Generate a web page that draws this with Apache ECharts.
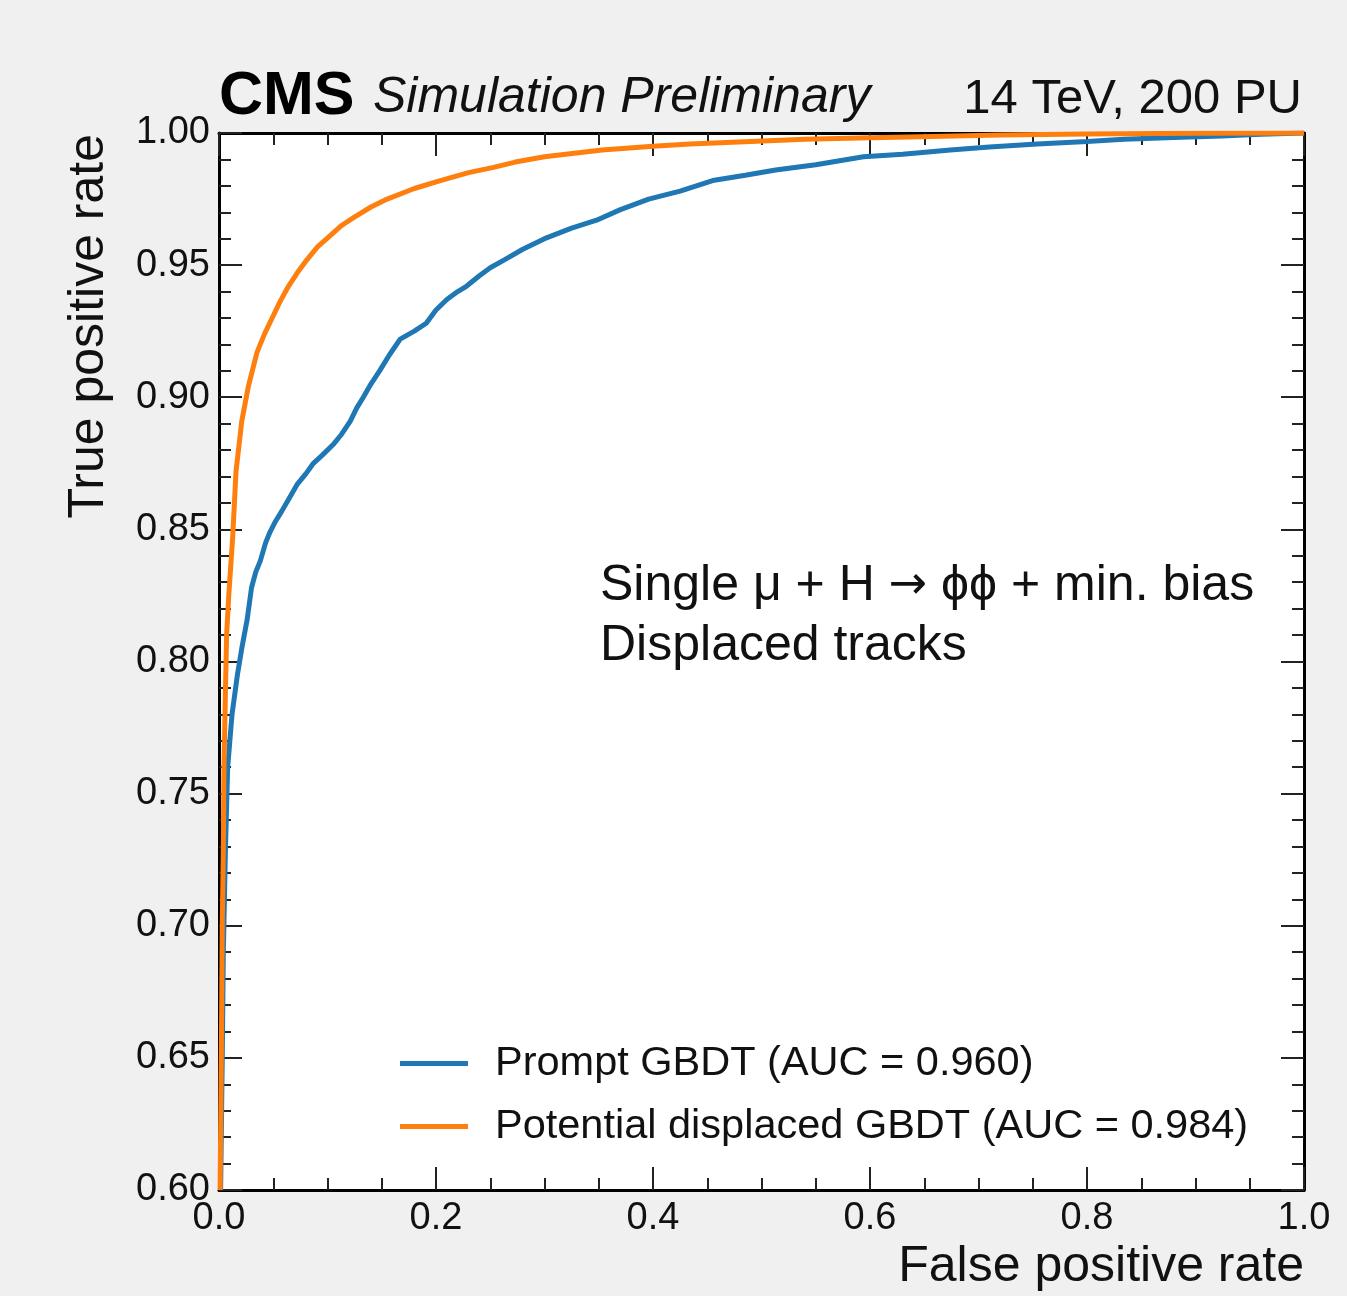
<!DOCTYPE html>
<html>
<head>
<meta charset="utf-8">
<script src="https://cdn.jsdelivr.net/npm/echarts@6/dist/echarts.min.js"></script>
<style>
  html, body { margin: 0; padding: 0; background: #f0f0f0; }
  #chart { width: 1347px; height: 1296px; }
</style>
</head>
<body>
<div id="chart"></div>
<script>
// ROC curves: [false positive rate, true positive rate]
const promptRoc = [
  [0.0015, 0.60], [0.003, 0.65], [0.004, 0.69], [0.006, 0.73], [0.008, 0.76],
  [0.012, 0.78], [0.017, 0.795], [0.021, 0.805], [0.026, 0.816], [0.030, 0.828],
  [0.034, 0.834], [0.038, 0.838], [0.043, 0.845], [0.047, 0.849], [0.052, 0.853],
  [0.058, 0.857], [0.065, 0.862], [0.072, 0.867], [0.080, 0.871], [0.087, 0.875],
  [0.095, 0.878], [0.105, 0.882], [0.113, 0.886], [0.121, 0.891], [0.127, 0.896],
  [0.133, 0.900], [0.140, 0.905], [0.148, 0.910], [0.157, 0.916], [0.167, 0.922],
  [0.180, 0.925], [0.191, 0.928], [0.200, 0.933], [0.210, 0.937], [0.220, 0.940],
  [0.228, 0.942], [0.240, 0.946], [0.250, 0.949], [0.263, 0.952], [0.280, 0.956],
  [0.300, 0.960], [0.325, 0.964], [0.348, 0.967], [0.370, 0.971], [0.396, 0.975],
  [0.425, 0.978], [0.455, 0.982], [0.485, 0.984], [0.513, 0.986], [0.550, 0.988],
  [0.594, 0.991], [0.630, 0.992], [0.674, 0.9936], [0.710, 0.9947], [0.754, 0.9958],
  [0.800, 0.9968], [0.834, 0.9976], [0.880, 0.9983], [0.924, 0.9989], [0.960, 0.9995],
  [1.0, 1.0]
];

const displacedRoc = [
  [0.0010, 0.60], [0.0017, 0.63], [0.0025, 0.67], [0.0030, 0.70], [0.0040, 0.73],
  [0.0046, 0.76], [0.0060, 0.79], [0.0070, 0.810], [0.0090, 0.825], [0.0126, 0.847],
  [0.0157, 0.872], [0.021, 0.891], [0.027, 0.904], [0.035, 0.917], [0.042, 0.924],
  [0.049, 0.930], [0.056, 0.936], [0.064, 0.942], [0.072, 0.947], [0.081, 0.952],
  [0.091, 0.957], [0.102, 0.961], [0.113, 0.965], [0.124, 0.968], [0.140, 0.972],
  [0.155, 0.975], [0.180, 0.979], [0.204, 0.982], [0.230, 0.985], [0.253, 0.987],
  [0.273, 0.989], [0.300, 0.991], [0.353, 0.9936], [0.400, 0.995], [0.434, 0.9958],
  [0.490, 0.9968], [0.540, 0.9976], [0.600, 0.9982], [0.647, 0.9986], [0.720, 0.9992],
  [0.800, 0.9996], [0.900, 0.9999], [1.0, 1.0]
];

const seriesNames = ["Prompt GBDT (AUC = 0.960)", "Potential displaced GBDT (AUC = 0.984)"];
const seriesColors = ["#1f77b4", "#ff7f0e"];

const xTickLabels = ["0.0", "0.2", "0.4", "0.6", "0.8", "1.0"];
const yTickLabels = ["0.60", "0.65", "0.70", "0.75", "0.80", "0.85", "0.90", "0.95", "1.00"];

const FONT = "'Liberation Sans', Arial, Helvetica, sans-serif";

const chart = echarts.init(document.getElementById("chart"));

const frameAxis = {
  axisLine: { show: true, onZero: false, lineStyle: { color: "#000", width: 3 } },
  axisTick: { show: true, inside: true, length: 23, lineStyle: { color: "#222", width: 2 } },
  minorTick: { show: true, length: 12, lineStyle: { color: "#222", width: 2 } },
  splitLine: { show: false },
  minorSplitLine: { show: false },
};

const xBase = { type: "value", min: 0, max: 1, interval: 0.2, ...frameAxis,
  minorTick: { ...frameAxis.minorTick, splitNumber: 4 } };
const yBase = { type: "value", min: 0.6, max: 1.0, interval: 0.05, ...frameAxis,
  minorTick: { ...frameAxis.minorTick, splitNumber: 5 } };

const option = {
  backgroundColor: "#f0f0f0",
  animation: false,
  textStyle: { fontFamily: FONT },
  grid: {
    left: 219, top: 133, width: 1085, height: 1057,
    show: true, backgroundColor: "#fff", borderWidth: 0,
  },
  xAxis: [
    {
      ...xBase, position: "bottom",
      axisLabel: {
        show: true, margin: 10, color: "#111", fontSize: 38, fontFamily: FONT,
        formatter: (v) => xTickLabels[Math.round(v / 0.2)] ?? "",
      },
    },
    { ...xBase, position: "top", axisLabel: { show: false } },
  ],
  yAxis: [
    {
      ...yBase, position: "left",
      axisLabel: {
        show: true, margin: 9, color: "#111", fontSize: 38, fontFamily: FONT,
        formatter: (v) => yTickLabels[Math.round((v - 0.6) / 0.05)] ?? "",
      },
    },
    { ...yBase, position: "right", axisLabel: { show: false } },
  ],
  legend: {
    orient: "vertical",
    left: 395, top: 1037,
    itemWidth: 68, itemHeight: 5, itemGap: 20,
    icon: "rect",
    textStyle: { fontSize: 41.5, color: "#111", fontFamily: FONT, padding: [0, 0, 0, 22], lineHeight: 43 },
    data: seriesNames,
  },
  series: [
    {
      name: seriesNames[0], type: "line", data: promptRoc,
      xAxisIndex: 0, yAxisIndex: 0, showSymbol: false, clip: true,
      lineStyle: { color: seriesColors[0], width: 5 }, itemStyle: { color: seriesColors[0] },
    },
    {
      name: seriesNames[1], type: "line", data: displacedRoc,
      xAxisIndex: 0, yAxisIndex: 0, showSymbol: false, clip: true,
      lineStyle: { color: seriesColors[1], width: 5 }, itemStyle: { color: seriesColors[1] },
    },
  ],
  graphic: [
    { type: "text", left: 219, top: 67,
      style: { text: "CMS", font: "bold 61px " + FONT, fill: "#000" } },
    { type: "text", left: 373, top: 73,
      style: { text: "Simulation Preliminary", font: "italic 50px " + FONT, fill: "#111" } },
    { type: "text", right: 45, top: 75,
      style: { text: "14 TeV, 200 PU", font: "49px " + FONT, fill: "#111" } },
    { type: "text", left: 600, top: 556,
      style: {
        text: "Single \u03bc + H {arrow|\u2192} \u03d5\u03d5 + min. bias\nDisplaced tracks",
        font: "50px " + FONT, fill: "#111", lineHeight: 60,
        rich: { arrow: { fontFamily: "DejaVu Sans", fontSize: 46, fill: "#111", lineHeight: 60 } },
      } },
    { type: "text", left: 64, top: 134, rotation: Math.PI / 2, originX: 0, originY: 0,
      style: { text: "True positive rate", font: "50px " + FONT, fill: "#111" } },
    { type: "text", right: 43, top: 1242,
      style: { text: "False positive rate", font: "50px " + FONT, fill: "#111" } },
  ],
};

chart.setOption(option);
</script>
</body>
</html>
